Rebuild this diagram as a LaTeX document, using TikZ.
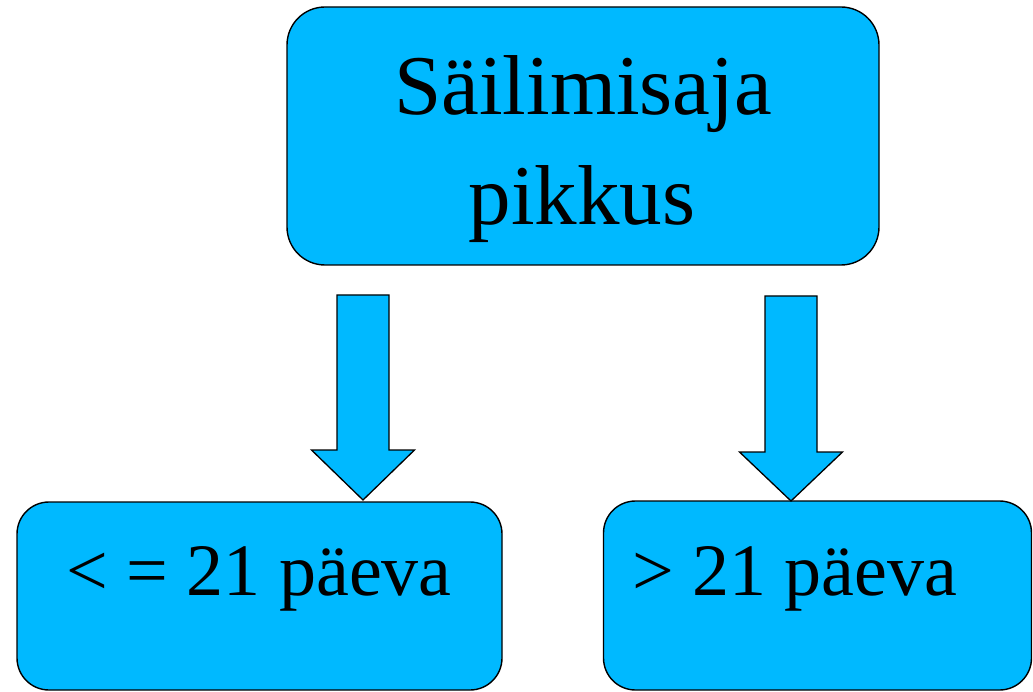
\documentclass[tikz,border=0pt]{standalone}
\usepackage{fontspec}
\setmainfont{Liberation Serif}
\usetikzlibrary{calc}
\definecolor{boxblue}{RGB}{0,185,255}
\tikzset{
  box/.style={draw=black, line width=1.4pt, fill=boxblue, rounded corners=32pt, inner sep=0pt},
  blockarrow/.style={draw=black, line width=1.3pt, fill=boxblue, line join=miter},
  bigtext/.style={font=\fontsize{85}{100}\selectfont, inner sep=0pt, anchor=base},
  midtext/.style={font=\fontsize{74}{90}\selectfont, inner sep=0pt, anchor=base west},
}
\begin{document}
\begin{tikzpicture}[x=1pt,y=-1pt]
\useasboundingbox (0,0) rectangle (1033,692);
% boxes
\node[box, minimum width=592pt, minimum height=258pt, rounded corners=38pt] (top) at (583,136) {};
\node[box, minimum width=485pt, minimum height=188pt] (left) at (259.5,596) {};
\node[box, minimum width=428pt, minimum height=189pt] (right) at (817.5,595.5) {};
% texts
\node[bigtext] (t1) at (583,115) {Säilimisaja};
\node[bigtext] (t2) at (582,225) {pikkus};
\node[midtext] (l1) at (66,595) {< = 21 päeva};
\node[midtext] (r1) at (632,595) {> 21 päeva};
% block arrows
\coordinate (la) at (363,295);
\coordinate (ra) at (791,296);
\draw[blockarrow] ($(la)+(-26,0)$) -- ($(la)+(26,0)$) -- ($(la)+(26,155)$) -- ($(la)+(51.5,155)$)
  -- (363,500) -- ($(la)+(-51.5,155)$) -- ($(la)+(-26,155)$) -- cycle;
\draw[blockarrow] ($(ra)+(-26,0)$) -- ($(ra)+(26,0)$) -- ($(ra)+(26,156)$) -- ($(ra)+(51.5,156)$)
  -- (791,501) -- ($(ra)+(-51.5,156)$) -- ($(ra)+(-26,156)$) -- cycle;
\end{tikzpicture}
\end{document}
